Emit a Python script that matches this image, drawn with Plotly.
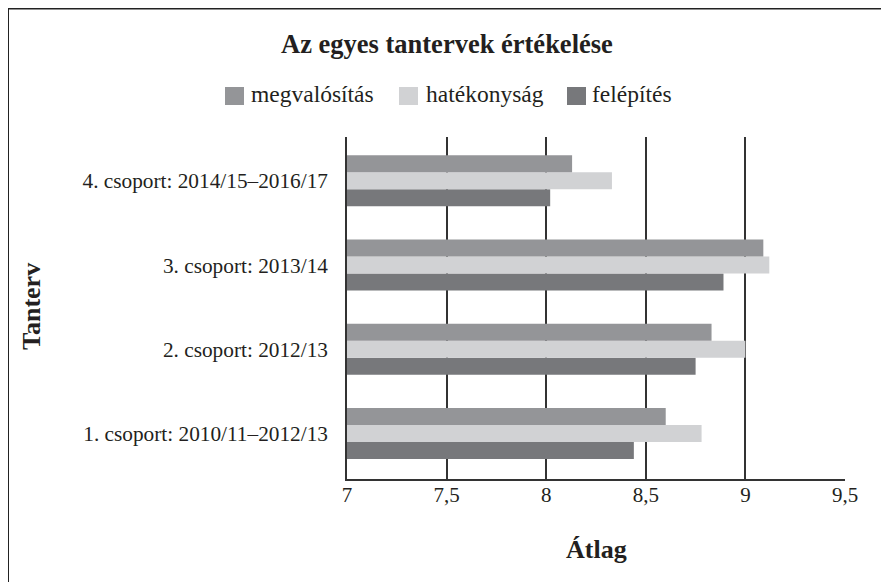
import plotly.graph_objects as go

categories = ["1. csoport: 2010/11–2012/13", "2. csoport: 2012/13",
              "3. csoport: 2013/14", "4. csoport: 2014/15–2016/17"]
megvalositas = [8.60, 8.83, 9.09, 8.13]
hatekonysag = [8.78, 9.00, 9.12, 8.33]
felepites = [8.44, 8.75, 8.89, 8.02]

series_names = ["megvalósítás", "hatékonyság", "felépítés"]
colors = {"megvalósítás": "#949598", "hatékonyság": "#d1d2d4", "felépítés": "#77787b"}
values = {"megvalósítás": megvalositas, "hatékonyság": hatekonysag, "felépítés": felepites}

FONT = "Liberation Serif, Times New Roman, serif"
TXT = "#231f20"
W, H = 889, 582
OFF = 8  # page body margin offset
# plot area in page pixels: left 347, right 845, top 137, bottom 479
L = 347 - OFF
T = 137 - OFF
R = W - (845 - OFF)
B = H - (479 - OFF)
PW, PH = W - L - R, H - T - B


def px_x(x):
    return (x - OFF - L) / PW


def px_y(y):
    return 1 - (y - OFF - T) / PH


fig = go.Figure()
for name in reversed(series_names):
    fig.add_trace(go.Bar(
        y=categories, x=values[name], name=name, orientation="h",
        marker=dict(color=colors[name], line=dict(width=0)),
        showlegend=False,
    ))

shapes = []
annotations = []
# outer frame (top and left visible)
shapes.append(dict(type="line", xref="paper", yref="paper",
                   x0=px_x(8), x1=px_x(910), y0=px_y(8.5), y1=px_y(8.5),
                   line=dict(color="#222222", width=2)))
shapes.append(dict(type="line", xref="paper", yref="paper",
                   x0=px_x(8), x1=px_x(8), y0=px_y(8.5), y1=px_y(610),
                   line=dict(color="#222222", width=2)))

# manual legend
legend_items = [(225, 249), (399, 424), (567, 590)]
for (sx, tx), name in zip(legend_items, series_names):
    shapes.append(dict(type="rect", xref="paper", yref="paper",
                       x0=px_x(sx), x1=px_x(sx + 19), y0=px_y(87), y1=px_y(105),
                       fillcolor=colors[name], line=dict(width=0)))
    annotations.append(dict(text=name, xref="paper", yref="paper",
                            x=px_x(tx), y=px_y(94), xanchor="left", yanchor="middle",
                            showarrow=False, font=dict(family=FONT, size=23.5, color=TXT)))

annotations.append(dict(text="<b>Az egyes tantervek értékelése</b>", xref="paper", yref="paper",
                        x=px_x(447), y=px_y(44), xanchor="center", yanchor="middle",
                        showarrow=False, font=dict(family=FONT, size=26.5, color=TXT)))
annotations.append(dict(text="<b>Tanterv</b>", xref="paper", yref="paper",
                        x=px_x(31), y=px_y(307), xanchor="center", yanchor="middle",
                        textangle=-90, showarrow=False,
                        font=dict(family=FONT, size=26, color=TXT)))
annotations.append(dict(text="<b>Átlag</b>", xref="paper", yref="paper",
                        x=px_x(596), y=px_y(549), xanchor="center", yanchor="middle",
                        showarrow=False, font=dict(family=FONT, size=26, color=TXT)))

fig.update_layout(
    width=W, height=H,
    margin=dict(l=L, r=R, t=T, b=B, pad=0),
    paper_bgcolor="white", plot_bgcolor="white",
    barmode="group", bargap=0.395, bargroupgap=0,
    separators=", ",
    font=dict(family=FONT, size=21, color=TXT),
    shapes=shapes, annotations=annotations,
    xaxis=dict(range=[7, 9.5], tick0=7, dtick=0.5, showgrid=True,
               gridcolor="#333333", gridwidth=1.5, zeroline=False,
               showline=True, linecolor="#333333", linewidth=1.5,
               ticks="", ticklabelstandoff=-4,
               tickfont=dict(family=FONT, size=21, color=TXT)),
    yaxis=dict(range=[-0.54, 3.52], showgrid=False, zeroline=False,
               showline=True, linecolor="#333333", linewidth=1.5,
               ticks="", ticklabelstandoff=13,
               tickfont=dict(family=FONT, size=21.3, color=TXT)),
)

fig.write_html("out.html")
